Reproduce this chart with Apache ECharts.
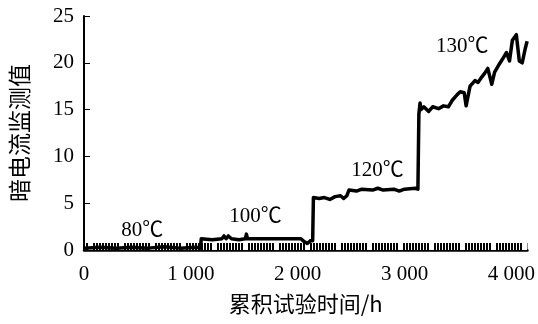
<!DOCTYPE html>
<html>
<head>
<meta charset="utf-8">
<script src="https://cdn.jsdelivr.net/npm/echarts@6/dist/echarts.min.js"></script>
<style>html,body{margin:0;padding:0;background:#fff}#c{width:538px;height:324px}</style>
</head>
<body>
<div id="c"></div>
<script>
// ---- data ----
var xTicks = [0, 1000, 2000, 3000, 4000];
var yTicks = [0, 5, 10, 15, 20, 25];
var xName = '累积试验时间/h';
var yName = '暗电流监测值';
// main dark-current trace: [hours, value]
var traceHours = [0,150,300,450,600,750,900,1050,1090,1097,1200,1290,1310,1330,1350,1380,1450,1510,1520,1530,1700,1900,2030,2060,2090,2120,2140,2147,2200,2250,2300,2350,2400,2430,2460,2480,2550,2600,2700,2750,2800,2900,2950,3000,3100,3125,3134,3145,3152,3180,3226,3263,3318,3364,3410,3447,3493,3521,3558,3576,3613,3659,3687,3724,3751,3779,3816,3843,3889,3917,3954,3982,4009,4046,4055,4074,4101,4129,4147];
var traceValues = [0.2,0.3,0.2,0.3,0.2,0.35,0.2,0.3,0.2,1.2,1.1,1.2,1.5,1.2,1.5,1.2,1.1,1.2,1.7,1.2,1.2,1.2,1.2,0.9,0.7,1.0,1.0,5.6,5.5,5.6,5.4,5.7,5.8,5.5,5.8,6.4,6.3,6.5,6.4,6.6,6.4,6.5,6.3,6.5,6.6,6.5,14.5,15.7,15.0,15.3,14.8,15.3,15.1,15.4,15.3,16.0,16.6,16.9,16.8,15.4,17.5,18.1,17.9,18.5,18.9,19.4,17.7,19.0,19.9,20.4,21.1,20.2,22.4,23.0,22.8,20.2,20.0,21.5,22.3];
// baseline sampling band (barcode): [hours, value]
var bandHours = [0, 4150];
var bandValues = [0.75, 0.75];
// temperature annotations
var noteText = ['80℃', '100℃', '120℃', '130℃'];
var noteHours = [544, 1604, 2747, 3539];
var noteValues = [2.1, 3.6, 8.5, 21.7];

var trace = traceHours.map(function (h, i) { return [h, traceValues[i]]; });
var band = bandHours.map(function (h, i) { return [h, bandValues[i]]; });
var notes = noteHours.map(function (h, i) { return { value: [h, noteValues[i]], name: noteText[i] }; });

// stripe pattern for the barcode band
var pc = document.createElement('canvas');
pc.width = 31; pc.height = 10;
var g = pc.getContext('2d');
g.fillStyle = '#fff'; g.fillRect(0, 0, 31, 10);
g.fillStyle = '#000';
var stripes = [0,3,6,9,12,15,18,21,24];
stripes.forEach(function (s) { g.fillRect(s, 0, 2, 10); });

var serif = '"Liberation Serif", "Noto Sans CJK SC", serif';
var chart = echarts.init(document.getElementById('c'), null, { renderer: 'canvas' });
chart.setOption({
  animation: false,
  backgroundColor: '#fff',
  grid: { left: 83, right: 5, top: 16, bottom: 74, containLabel: false },
  xAxis: {
    type: 'value', min: 0, max: 4150, interval: 1000,
    name: xName, nameLocation: 'middle', nameGap: 43,
    nameTextStyle: { fontFamily: '"Noto Sans CJK SC", serif', fontSize: 22, color: '#000' },
    axisLine: { show: true, lineStyle: { color: '#000', width: 2.5 } },
    axisTick: { show: false },
    splitLine: { show: false },
    axisLabel: {
      color: '#000', fontFamily: serif, fontSize: 21, margin: 14,
      formatter: function (v) { return v >= 1000 ? String(v / 1000) + ' 000' : String(v); }
    }
  },
  yAxis: {
    type: 'value', min: 0, max: 25, interval: 5,
    name: yName, nameLocation: 'middle', nameGap: 53, nameRotate: 90,
    nameTextStyle: { fontFamily: '"Noto Sans CJK SC", serif', fontSize: 23, color: '#000' },
    axisLine: { show: true, lineStyle: { color: '#000', width: 2 } },
    axisTick: { show: true, inside: true, length: 6, lineStyle: { color: '#000', width: 1 } },
    splitLine: { show: false },
    axisLabel: { color: '#000', fontFamily: serif, fontSize: 21, margin: 10 }
  },
  series: [
    {
      type: 'line', data: band, symbol: 'none', silent: true, z: 1,
      lineStyle: { width: 0 },
      areaStyle: { color: { image: pc, repeat: 'repeat' }, opacity: 1 }
    },
    {
      type: 'line', data: trace, symbol: 'none', z: 3,
      lineStyle: { color: '#000', width: 3.5, join: 'round' }
    },
    {
      type: 'scatter', data: notes, symbolSize: 0, z: 4, silent: true,
      itemStyle: { opacity: 1 },
      label: {
        show: true, position: 'inside', formatter: '{b}', opacity: 1,
        color: '#000', fontFamily: serif, fontSize: 21
      }
    }
  ]
});
</script>
</body>
</html>
